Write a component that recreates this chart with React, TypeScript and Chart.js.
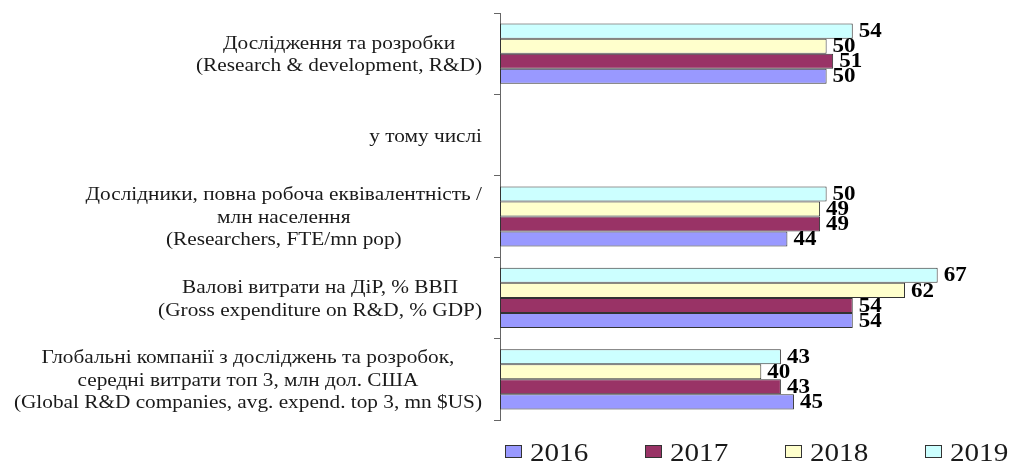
import React, { useEffect, useRef } from 'react';
import { Chart, registerables } from 'chart.js';

Chart.register(...registerables);

const categoryLabels: string[][] = [
  ['Дослідження та розробки', '(Research & development, R&D)'],
  ['у тому числі'],
  ['Дослідники, повна робоча еквівалентність /', 'млн населення', '(Researchers, FTE/mn pop)'],
  ['Валові витрати на ДіР, % ВВП', '(Gross expenditure on R&D, % GDP)'],
  ['Глобальні компанії з досліджень та розробок,', 'середні витрати топ 3, млн дол. США', '(Global R&D companies, avg. expend. top 3, mn $US)'],
];

const years = ['2016', '2017', '2018', '2019'];
const values2016: (number | null)[] = [50, null, 44, 54, 45];
const values2017: (number | null)[] = [51, null, 49, 54, 43];
const values2018: (number | null)[] = [50, null, 49, 62, 40];
const values2019: (number | null)[] = [54, null, 50, 67, 43];
const seriesValues = [values2016, values2017, values2018, values2019];
const seriesColors = ['#9999ff', '#993366', '#ffffcc', '#ccffff'];

const SERIF = '"Liberation Serif", "Times New Roman", serif';

function stretchedText(ctx: CanvasRenderingContext2D, text: string, x: number, y: number, sx: number) {
  ctx.save();
  ctx.translate(x, y);
  ctx.scale(sx, 1);
  ctx.fillText(text, 0, 0);
  ctx.restore();
}

const catLabelPlugin = {
  id: 'catLabels',
  afterDraw(chart: any) {
    const ctx = chart.ctx as CanvasRenderingContext2D;
    const yScale = chart.scales.y;
    const right = chart.chartArea.left - 18;
    const sx = 1.12;
    ctx.save();
    ctx.font = `19px ${SERIF}`;
    ctx.fillStyle = '#1a1a1a';
    ctx.textAlign = 'center';
    ctx.textBaseline = 'middle';
    const lh = 22.5;
    categoryLabels.forEach((lines, i) => {
      const cy = yScale.getPixelForValue(i) + 1.5;
      const w = Math.max(...lines.map((l) => ctx.measureText(l).width)) * sx;
      const cx = right - w / 2;
      lines.forEach((l, j) => {
        stretchedText(ctx, l, cx, cy + (j - (lines.length - 1) / 2) * lh, sx);
      });
    });
    ctx.restore();
  },
};

const valueLabelPlugin = {
  id: 'valueLabels',
  afterDatasetsDraw(chart: any) {
    const ctx = chart.ctx as CanvasRenderingContext2D;
    ctx.save();
    ctx.font = `bold 20px ${SERIF}`;
    ctx.fillStyle = '#000';
    ctx.textAlign = 'left';
    ctx.textBaseline = 'middle';
    chart.data.datasets.forEach((ds: any, di: number) => {
      const meta = chart.getDatasetMeta(di);
      meta.data.forEach((el: any, i: number) => {
        const v = ds.data[i];
        if (v === null || v === undefined) return;
        stretchedText(ctx, String(v), el.x + 6, el.y + 1, 1.15);
      });
    });
    ctx.restore();
  },
};

const legendPlugin = {
  id: 'customLegend',
  afterDraw(chart: any) {
    const ctx = chart.ctx as CanvasRenderingContext2D;
    const startX = chart.chartArea.left + 5;
    const step = 140;
    const boxTop = 445;
    ctx.save();
    ctx.font = `26px ${SERIF}`;
    ctx.textAlign = 'left';
    ctx.textBaseline = 'middle';
    years.forEach((yr, i) => {
      const x = startX + i * step;
      ctx.fillStyle = seriesColors[i];
      ctx.fillRect(x, boxTop, 17, 13);
      ctx.strokeStyle = '#333';
      ctx.lineWidth = 1;
      ctx.strokeRect(x + 0.5, boxTop + 0.5, 16, 12);
      ctx.fillStyle = '#1a1a1a';
      stretchedText(ctx, yr, x + 25, boxTop + 9, 1.12);
    });
    ctx.restore();
  },
};

export default function App() {
  const ref = useRef<HTMLCanvasElement | null>(null);
  useEffect(() => {
    if (!ref.current) return;
    const order = [3, 2, 1, 0];
    const chart = new Chart(ref.current, {
      type: 'bar',
      data: {
        labels: categoryLabels,
        datasets: order.map((k) => ({
          label: years[k],
          data: seriesValues[k],
          backgroundColor: seriesColors[k],
          borderColor: '#333333',
          borderWidth: 1,
          borderSkipped: false,
          categoryPercentage: 0.74,
          barPercentage: 1.0,
        })),
      },
      options: {
        indexAxis: 'y',
        animation: false,
        responsive: false,
        layout: { padding: { top: 13, bottom: 44, right: 8, left: 0 } },
        plugins: {
          legend: { display: false },
          tooltip: { enabled: false },
        },
        scales: {
          x: {
            display: false,
            min: 0,
            max: 77,
          },
          y: {
            afterFit: (scale: any) => {
              scale.width = 500;
            },
            ticks: { display: false },
            grid: {
              display: true,
              drawOnChartArea: false,
              drawTicks: true,
              tickLength: 6,
              color: '#666',
              offset: true,
            },
            border: { display: true, color: '#666', width: 1 },
          },
        },
      },
      plugins: [catLabelPlugin, valueLabelPlugin, legendPlugin],
    });
    return () => chart.destroy();
  }, []);
  return (
    <div style={{ position: 'absolute', left: 0, top: 0, width: 1011, height: 464, background: '#fff' }}>
      <canvas ref={ref} width={1011} height={464} style={{ display: 'block' }} />
    </div>
  );
}
